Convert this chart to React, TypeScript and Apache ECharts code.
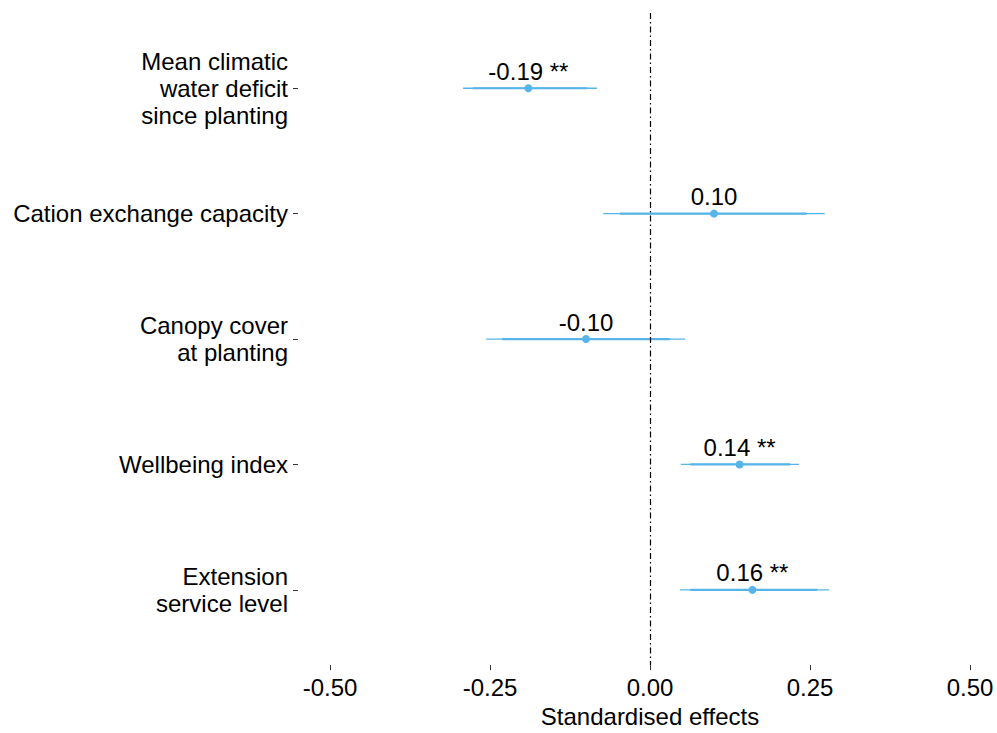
import React, { useEffect, useRef } from "react";
import * as echarts from "echarts";

const categories = [
  "Mean climatic\nwater deficit\nsince planting",
  "Cation exchange capacity",
  "Canopy cover\nat planting",
  "Wellbeing index",
  "Extension\nservice level",
];
const estimates = [-0.19, 0.1, -0.1, 0.14, 0.16];
const lower95 = [-0.292, -0.073, -0.256, 0.048, 0.047];
const upper95 = [-0.083, 0.273, 0.055, 0.233, 0.28];
const lowerInner = [-0.277, -0.047, -0.231, 0.063, 0.063];
const upperInner = [-0.098, 0.245, 0.031, 0.219, 0.261];
const pointLabels = ["-0.19 **", "0.10", "-0.10", "0.14 **", "0.16 **"];
const xTicks = [-0.5, -0.25, 0, 0.25, 0.5];

const FONT = "Liberation Sans, Arial, sans-serif";
const BLUE = "#56B4E9";

export default function App() {
  const ref = useRef<HTMLDivElement>(null);
  useEffect(() => {
    if (!ref.current) return;
    const chart = echarts.init(ref.current, undefined, { renderer: "svg" });
    const data = categories.map((_, i) => [
      i + 1,
      estimates[i],
      lower95[i],
      upper95[i],
      lowerInner[i],
      upperInner[i],
    ]);
    chart.setOption({
      animation: false,
      backgroundColor: "#ffffff",
      grid: { left: 330, right: 27, top: 13, bottom: 54, containLabel: false },
      xAxis: {
        type: "value",
        min: -0.5,
        max: 0.5,
        splitLine: { show: false },
        axisLine: { show: false, onZero: false },
        axisTick: { show: true, length: 5, customValues: xTicks, lineStyle: { color: "#333", width: 1 } },
        axisLabel: {
          customValues: xTicks,
          margin: 10,
          fontSize: 24,
          fontFamily: FONT,
          color: "#000",
          formatter: (v: number) => v.toFixed(2),
        },
        name: "Standardised effects",
        nameLocation: "middle",
        nameGap: 36,
        nameTextStyle: { fontSize: 24, fontFamily: FONT, color: "#000" },
      },
      yAxis: {
        type: "value",
        min: 0.4,
        max: 5.6,
        inverse: true,
        offset: 32,
        splitLine: { show: false },
        axisLine: { show: false, onZero: false },
        axisTick: { show: true, length: 5, customValues: [1, 2, 3, 4, 5], lineStyle: { color: "#333", width: 1 } },
        axisLabel: {
          customValues: [1, 2, 3, 4, 5],
          margin: 10,
          fontSize: 24,
          lineHeight: 27,
          fontFamily: FONT,
          color: "#000",
          align: "right",
          formatter: (v: number) => categories[Math.round(v) - 1] ?? "",
        },
      },
      series: [
        {
          type: "custom",
          data,
          encode: { x: [1, 2, 3], y: 0 },
          renderItem: (params: any, api: any) => {
            const cat = api.value(0);
            const est = api.value(1);
            const lo = api.coord([api.value(2), cat]);
            const hi = api.coord([api.value(3), cat]);
            const li = api.coord([api.value(4), cat]);
            const hiI = api.coord([api.value(5), cat]);
            const p = api.coord([est, cat]);
            return {
              type: "group",
              children: [
                {
                  type: "line",
                  shape: { x1: lo[0], y1: lo[1], x2: hi[0], y2: hi[1] },
                  style: { stroke: BLUE, lineWidth: 1.3 },
                },
                {
                  type: "line",
                  shape: { x1: li[0], y1: li[1], x2: hiI[0], y2: hiI[1] },
                  style: { stroke: BLUE, lineWidth: 2.2 },
                },
                {
                  type: "circle",
                  shape: { cx: p[0], cy: p[1], r: 4 },
                  style: { fill: BLUE },
                },
                {
                  type: "text",
                  x: p[0],
                  y: p[1] - 17,
                  style: {
                    text: pointLabels[params.dataIndex],
                    fontSize: 24,
                    fontFamily: FONT,
                    fill: "#000",
                    align: "center",
                    verticalAlign: "middle",
                  },
                },
              ],
            };
          },
          markLine: {
            silent: true,
            symbol: "none",
            label: { show: false },
            lineStyle: { color: "#000", width: 1.2, type: [6, 3, 1.5, 3] },
            data: [{ xAxis: 0 }],
          },
        },
      ],
    });
    return () => chart.dispose();
  }, []);
  return (
    <div
      ref={ref}
      style={{ position: "absolute", left: 0, top: 0, width: 997, height: 733 }}
    />
  );
}
